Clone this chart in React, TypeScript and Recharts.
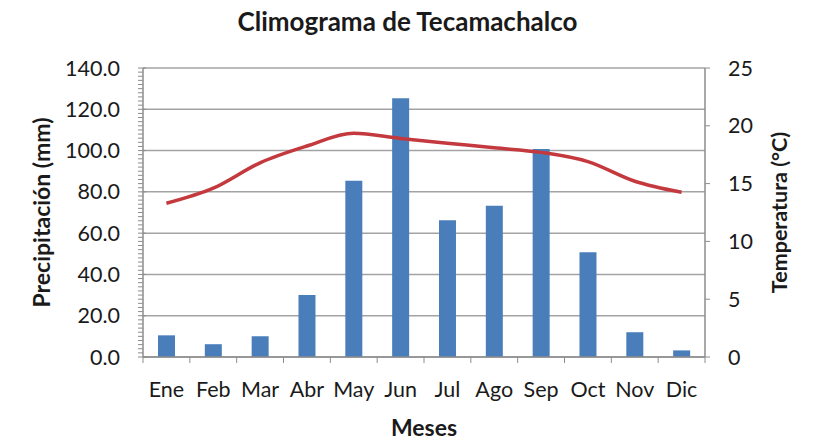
import React from "react";
import { ComposedChart, Bar, Line, XAxis, YAxis, CartesianGrid, Label } from "recharts";

const months = ["Ene", "Feb", "Mar", "Abr", "May", "Jun", "Jul", "Ago", "Sep", "Oct", "Nov", "Dic"];
const precipitation = [10.5, 6.2, 10.0, 30.0, 85.4, 125.3, 66.2, 73.3, 100.8, 50.7, 12.0, 3.2];
const temperature = [13.3, 14.6, 16.8, 18.25, 19.35, 18.9, 18.5, 18.1, 17.7, 16.9, 15.2, 14.25];
const precipTicks = [0, 20, 40, 60, 80, 100, 120, 140];
const tempTicks = [0, 5, 10, 15, 20, 25];
const minorTicks = Array.from({ length: 71 }, (_, i) => i * 2);

const data = months.map((m, i) => ({ mes: m, p: precipitation[i], t: temperature[i] }));

const FONT = "Lato, 'Open Sans', sans-serif";
const TXT = "#1a1a1a";
const AX = "#8c8c8c";
const TICK_FS = 21.5;

const Y_TICK_SIZE = 5;
const Y_TICK_MARGIN = 18;
function LeftTick(props: any) {
  const { x, y, payload } = props;
  const v = payload.value as number;
  const major = v % 20 === 0;
  const axisX = x + Y_TICK_SIZE + Y_TICK_MARGIN;
  return (
    <g>
      <line x1={axisX - 5} x2={axisX + (major ? 3 : 0)} y1={y} y2={y} stroke={AX} strokeWidth={1} />
      {major && (
        <text x={x} y={y} dy="0.355em" textAnchor="end" fill={TXT} fontSize={TICK_FS} fontFamily={FONT}>
          {v.toFixed(1)}
        </text>
      )}
    </g>
  );
}

const X_TICK_SIZE = 5;
const X_TICK_MARGIN = 20;
function BottomTick(props: any) {
  const { x, y, payload, index } = props;
  const half = payload.offset ?? 23.4;
  const axisY = y - X_TICK_SIZE - X_TICK_MARGIN;
  return (
    <g>
      <line x1={x - half} x2={x - half} y1={axisY} y2={axisY + 6} stroke={AX} strokeWidth={1} />
      {index === months.length - 1 && (
        <line x1={x + half} x2={x + half} y1={axisY} y2={axisY + 6} stroke={AX} strokeWidth={1} />
      )}
      <text x={x} y={y} dy="0.71em" textAnchor="middle" fill={TXT} fontSize={TICK_FS} fontFamily={FONT}>
        {payload.value}
      </text>
    </g>
  );
}

export default function App() {
  return (
    <div style={{ position: "absolute", left: 0, top: 0, width: 815, height: 444, background: "#fff", fontFamily: FONT }}>
      <div
        style={{
          position: "absolute",
          left: 0,
          top: 4,
          width: 815,
          textAlign: "center",
          fontSize: 26,
          fontWeight: 700,
          color: TXT,
          fontFamily: FONT,
          lineHeight: "34px",
        }}
      >
        Climograma de Tecamachalco
      </div>
      <ComposedChart
        width={815}
        height={444}
        data={data}
        margin={{ top: 68, right: 50, bottom: 47, left: 73 }}
        barCategoryGap="32%"
      >
        <CartesianGrid
          vertical={false}
          horizontal={true}
          yAxisId="p"
          xAxisId="c"
          horizontalValues={precipTicks}
          stroke="#a3a3a3"
          strokeWidth={1.5}
        />
        <YAxis
          yAxisId="p"
          orientation="left"
          width={70}
          domain={[0, 140]}
          ticks={minorTicks}
          interval={0}
          tick={<LeftTick />}
          tickSize={Y_TICK_SIZE}
          tickMargin={Y_TICK_MARGIN}
          axisLine={{ stroke: AX, strokeWidth: 1.5 }}
          tickLine={false}
          type="number"
        >
          <Label
            value="Precipitación (mm)"
            angle={-90}
            position="center"
            dx={-66}
            style={{ fill: TXT, fontSize: 23, fontWeight: 700, fontFamily: FONT, textAnchor: "middle" }}
          />
        </YAxis>
        <YAxis
          yAxisId="t"
          orientation="right"
          width={60}
          domain={[0, 25]}
          ticks={tempTicks}
          interval={0}
          tick={{ fill: TXT, fontSize: TICK_FS, fontFamily: FONT }}
          tickSize={5}
          tickMargin={18}
          axisLine={{ stroke: AX, strokeWidth: 1.5 }}
          tickLine={{ stroke: AX }}
          type="number"
        >
          <Label
            value="Temperatura (°C)"
            angle={-90}
            position="center"
            dx={44}
            style={{ fill: TXT, fontSize: 21.5, fontWeight: 700, fontFamily: FONT, textAnchor: "middle" }}
          />
        </YAxis>
        <XAxis
          xAxisId="c"
          dataKey="mes"
          height={40}
          tick={<BottomTick />}
          tickLine={false}
          tickSize={X_TICK_SIZE}
          tickMargin={X_TICK_MARGIN}
          interval={0}
          axisLine={{ stroke: AX, strokeWidth: 1.5 }}
        >
          <Label
            value="Meses"
            position="center"
            dy={51}
            style={{ fill: TXT, fontSize: 23, fontWeight: 700, fontFamily: FONT, textAnchor: "middle" }}
          />
        </XAxis>
        <Bar dataKey="p" yAxisId="p" xAxisId="c" fill="#4A7EBB" isAnimationActive={false} />
        <Line
          dataKey="t"
          yAxisId="t"
          xAxisId="c"
          type="monotone"
          stroke="#C4393D"
          strokeWidth={3.5}
          dot={false}
          activeDot={false}
          isAnimationActive={false}
        />
      </ComposedChart>
    </div>
  );
}
